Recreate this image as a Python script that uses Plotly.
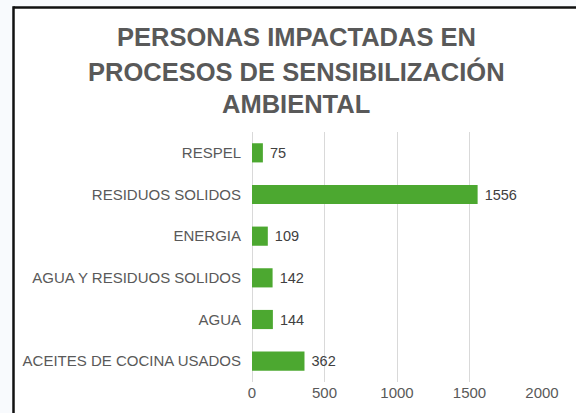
import plotly.graph_objects as go

categories = ["ACEITES DE COCINA USADOS", "AGUA", "AGUA Y RESIDUOS SOLIDOS",
              "ENERGIA", "RESIDUOS SOLIDOS", "RESPEL"]
values = [362, 144, 142, 109, 1556, 75]
x_ticks = [0, 500, 1000, 1500, 2000]
title_lines = ["PERSONAS IMPACTADAS EN", "PROCESOS DE SENSIBILIZACIÓN", "AMBIENTAL"]

W, H = 576, 413
L, R, T, B = 252, 34, 132, 31
pw, ph = W - L - R, H - T - B

def px_x(p):
    return (p - L) / pw

def px_y(p):
    return (H - B - p) / ph

FONT = "Liberation Sans, Arial"

fig = go.Figure()
fig.add_trace(go.Bar(
    y=categories, x=values, orientation="h", width=0.46,
    marker=dict(color="#4ca830", line=dict(width=0)),
    text=values, texttemplate=" %{x}", textposition="outside",
    textfont=dict(family=FONT, size=14.5, color="#404040"),
    cliponaxis=False,
))

shapes = [
    dict(type="rect", xref="paper", yref="paper", layer="below",
         x0=px_x(13.5), x1=px_x(600), y0=px_y(7.5), y1=px_y(440),
         fillcolor="white", line=dict(width=0)),
    dict(type="line", xref="paper", yref="paper", layer="above",
         x0=px_x(13.5), x1=px_x(600), y0=px_y(7.5), y1=px_y(7.5),
         line=dict(color="#111111", width=2.5)),
    dict(type="line", xref="paper", yref="paper", layer="above",
         x0=px_x(13.5), x1=px_x(13.5), y0=px_y(6.3), y1=px_y(440),
         line=dict(color="#111111", width=2.5)),
]

annotations = []
for line, py in zip(title_lines, [37, 71, 104]):
    annotations.append(dict(text="<b>" + line + "</b>", xref="paper", yref="paper",
                            x=px_x(296), y=px_y(py), xanchor="center", yanchor="middle",
                            showarrow=False,
                            font=dict(family=FONT, size=25.5, color="#595959")))

fig.update_layout(
    width=W, height=H,
    margin=dict(l=L, r=R, t=T, b=B, pad=0),
    paper_bgcolor="#f8fafd", plot_bgcolor="rgba(0,0,0,0)",
    showlegend=False,
    shapes=shapes, annotations=annotations,
    bargap=0.54,
)
fig.update_xaxes(range=[0, 2000], tickvals=x_ticks, showgrid=True, gridcolor="#d9d9d9",
                 gridwidth=1, zeroline=True, zerolinecolor="#d9d9d9", zerolinewidth=1,
                 showline=False, ticks="", automargin=False,
                 tickfont=dict(family=FONT, size=15, color="#595959"))
fig.update_yaxes(categoryorder="array", categoryarray=categories, showgrid=False,
                 showline=False, ticks="", ticklabelstandoff=10,
                 tickfont=dict(family=FONT, size=15, color="#595959"))

fig.write_html("out.html", config={"displayModeBar": False},
               post_script="document.body.style.margin='0';document.body.style.background='#f8fafd';")
